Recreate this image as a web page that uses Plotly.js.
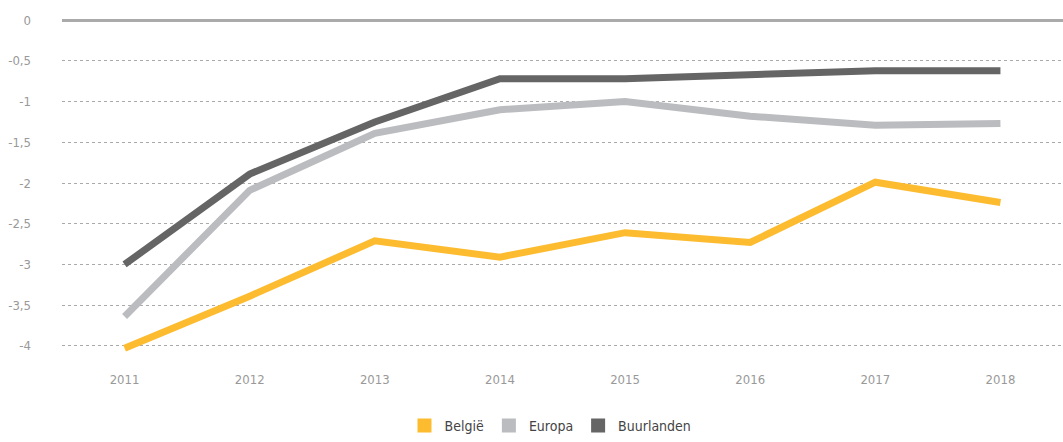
<!DOCTYPE html>
<html>
<head>
<meta charset="utf-8">
<script src="https://cdn.plot.ly/plotly-3.0.1.min.js"></script>
<style>
  html, body { margin: 0; padding: 0; background: #fff; }
  #plotDiv { width: 1063px; height: 442px; }
</style>
</head>
<body>
<div id="plotDiv"></div>
<script>
var years = ['2011', '2012', '2013', '2014', '2015', '2016', '2017', '2018'];
var belgie = [-4.03, -3.39, -2.71, -2.91, -2.61, -2.73, -1.99, -2.24];
var europa = [-3.64, -2.09, -1.39, -1.10, -1.00, -1.18, -1.29, -1.27];
var buurlanden = [-3.00, -1.89, -1.25, -0.72, -0.72, -0.66, -0.62, -0.62];

var names = ['België', 'Europa', 'Buurlanden'];
var colors = ['#fdbb30', '#bbbcbf', '#656565'];
var series = [belgie, europa, buurlanden];

var fontFam = 'DejaVu Sans Condensed, Liberation Sans, Arial, sans-serif';

var plotData = [];
for (var i = 0; i < series.length; i++) {
  plotData.push({
    type: 'scatter',
    mode: 'lines',
    x: years,
    y: series[i],
    name: names[i],
    showlegend: false,
    legendgroup: names[i],
    line: { color: colors[i], width: 7 },
    hoverinfo: 'x+y'
  });
}
// legend entries with square swatches
for (var i = 0; i < series.length; i++) {
  plotData.push({
    type: 'scatter',
    mode: 'markers',
    x: [null],
    y: [null],
    name: names[i],
    legendgroup: names[i],
    marker: { color: colors[i], symbol: 'square', size: 14 }
  });
}

var layout = {
  width: 1063,
  height: 442,
  margin: { l: 62, r: 0, t: 12, b: 88 },
  paper_bgcolor: '#fff',
  plot_bgcolor: '#fff',
  separators: ',.',
  font: { family: fontFam, size: 13, color: '#999' },
  xaxis: {
    type: 'category',
    range: [-0.5, 7.5],
    showgrid: false,
    zeroline: false,
    showline: false,
    ticks: '',
    ticklabelstandoff: 16,
    tickfont: { family: fontFam, size: 13, color: '#999' }
  },
  yaxis: {
    range: [-4.1, 0.1],
    tickvals: [0, -0.5, -1, -1.5, -2, -2.5, -3, -3.5, -4],
    ticktext: ['0', '-0,5', '-1', '-1,5', '-2', '-2,5', '-3', '-3,5', '-4'],
    showgrid: true,
    gridcolor: '#aaa',
    gridwidth: 1,
    griddash: 'dot',
    zeroline: true,
    zerolinecolor: '#aaa',
    zerolinewidth: 3,
    showline: false,
    ticks: '',
    ticklabelstandoff: 30,
    tickfont: { family: fontFam, size: 13, color: '#999' }
  },
  legend: {
    orientation: 'h',
    x: 0.488,
    xanchor: 'center',
    yref: 'container',
    y: 0,
    yanchor: 'bottom',
    font: { family: fontFam, size: 14, color: '#444' },
    itemwidth: 30
  }
};

Plotly.newPlot('plotDiv', plotData, layout, { displayModeBar: false, staticPlot: true });
</script>
</body>
</html>
